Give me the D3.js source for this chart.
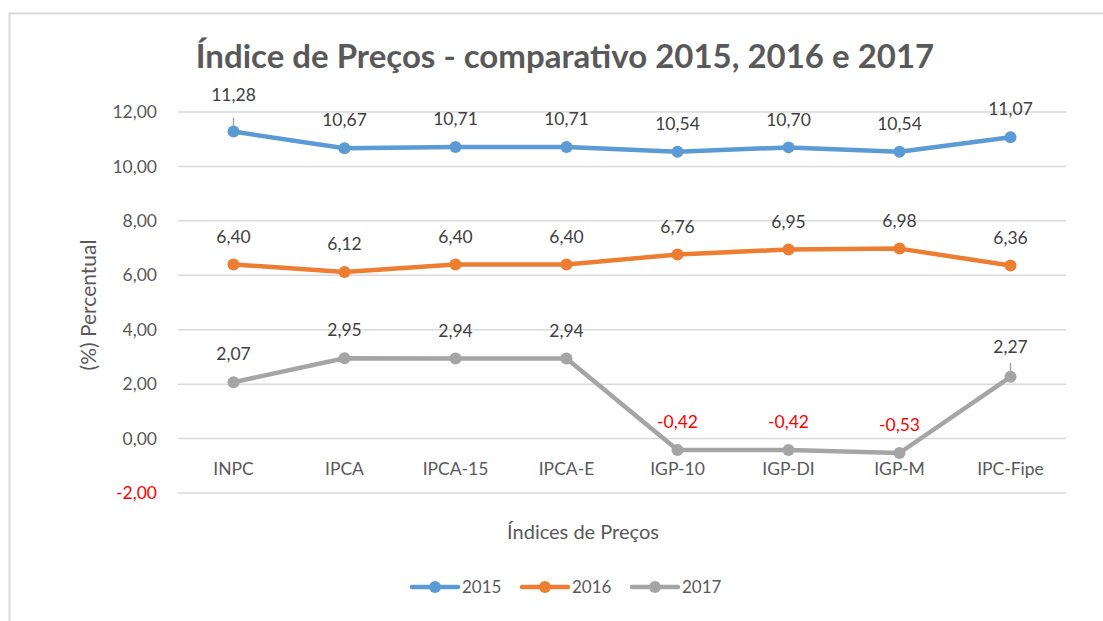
<!DOCTYPE html>
<html><head><meta charset="utf-8">
<script src="https://cdn.jsdelivr.net/npm/d3@7"></script>
<style>body{margin:0;background:#fff}svg text{font-family:Lato,"Open Sans",sans-serif}</style>
</head><body><svg id="c" width="1103" height="621"></svg>
<script>
const categories = ["INPC","IPCA","IPCA-15","IPCA-E","IGP-10","IGP-DI","IGP-M","IPC-Fipe"];
const series2015 = [11.28,10.67,10.71,10.71,10.54,10.70,10.54,11.07];
const series2016 = [6.40,6.12,6.40,6.40,6.76,6.95,6.98,6.36];
const series2017 = [2.07,2.95,2.94,2.94,-0.42,-0.42,-0.53,2.27];
const seriesNames = ["2015","2016","2017"];
const yTicks = [-2,0,2,4,6,8,10,12];
const leaderLines = [{s:0,i:0,extra:9},{s:2,i:7,extra:2}];

const colors = ["#5B9BD5","#ED7D31","#A5A5A5"];
const allSeries = [series2015, series2016, series2017];
const svg = d3.select("#c");
const fmt = v => v.toFixed(2).replace(".", ",");

// border
svg.append("path").attr("d","M9.5,621 V13.5 H1103").attr("fill","none").attr("stroke","#d9d9d9").attr("stroke-width",2);

const x = d3.scaleBand().domain(categories).range([178,1066]);
const y = d3.scaleLinear().domain([-2,12]).range([493,112]);

// gridlines
svg.append("g").selectAll("line").data(yTicks).join("line")
  .attr("x1",178).attr("x2",1066).attr("y1",d=>y(d)).attr("y2",d=>y(d))
  .attr("stroke","#d9d9d9").attr("stroke-width",1.5);

// y axis labels
svg.append("g").selectAll("text").data(yTicks).join("text")
  .attr("x",157).attr("y",d=>y(d)).attr("dy","0.35em").attr("text-anchor","end")
  .attr("font-size",17.5).attr("fill",d=>d<0?"#FF0000":"#595959").text(fmt);

// category labels
svg.append("g").selectAll("text").data(categories).join("text")
  .attr("x",d=>x(d)+x.bandwidth()/2).attr("y",y(0)+30).attr("dy","0.35em").attr("text-anchor","middle")
  .attr("font-size",17.5).attr("fill","#595959").text(d=>d);

// title
svg.append("text").attr("x",565).attr("y",68).attr("text-anchor","middle")
  .attr("font-size",33).attr("font-weight","bold").attr("fill","#595959")
  .text("Índice de Preços - comparativo 2015, 2016 e 2017");

// axis titles
svg.append("text").attr("transform","translate(96,305) rotate(-90)").attr("text-anchor","middle")
  .attr("font-size",21).attr("fill","#595959").text("(%) Percentual");
svg.append("text").attr("x",583).attr("y",532).attr("dy","0.35em").attr("text-anchor","middle")
  .attr("font-size",20).attr("fill","#595959").text("Índices de Preços");

const cx = i => x(categories[i]) + x.bandwidth()/2;
const line = d3.line().x((d,i)=>cx(i)).y(d=>y(d));
const extraOffset = (k,i) => { const l = leaderLines.find(l=>l.s===k&&l.i===i); return l ? l.extra : 0; };

// leader lines
leaderLines.forEach(l => {
  const v = allSeries[l.s][l.i];
  svg.append("line").attr("x1",cx(l.i)).attr("x2",cx(l.i)).attr("y1",y(v)-14).attr("y2",y(v))
    .attr("stroke","#a6a6a6").attr("stroke-width",1.5);
});

allSeries.forEach((s,k) => {
  const g = svg.append("g");
  g.append("path").datum(s).attr("d",line).attr("fill","none").attr("stroke",colors[k])
    .attr("stroke-width",4.5).attr("stroke-linejoin","round").attr("stroke-linecap","round");
  g.selectAll("circle").data(s).join("circle").attr("cx",(d,i)=>cx(i)).attr("cy",d=>y(d)).attr("r",6).attr("fill",colors[k]);
  g.selectAll("text").data(s).join("text").attr("x",(d,i)=>cx(i)).attr("y",(d,i)=>y(d)-28-extraOffset(k,i)).attr("dy","0.35em")
    .attr("text-anchor","middle").attr("font-size",17.5).attr("fill",d=>d<0?"#FF0000":"#404040").text(fmt);
});

// legend
const lg = svg.append("g");
const lx = [412,522,632];
seriesNames.forEach((n,k) => {
  lg.append("line").attr("x1",lx[k]).attr("x2",lx[k]+46).attr("y1",587).attr("y2",587)
    .attr("stroke",colors[k]).attr("stroke-width",4.5).attr("stroke-linecap","round");
  lg.append("circle").attr("cx",lx[k]+23).attr("cy",587).attr("r",6).attr("fill",colors[k]);
  lg.append("text").attr("x",lx[k]+50).attr("y",587).attr("dy","0.35em").attr("font-size",17).attr("fill","#595959").text(n);
});
</script></body></html>
